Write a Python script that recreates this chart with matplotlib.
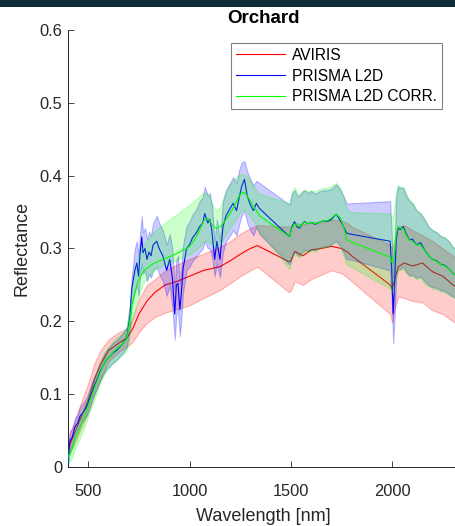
import matplotlib
matplotlib.use("Agg")
import matplotlib.pyplot as plt
from matplotlib.patches import Rectangle
import numpy as np

plt.rcParams['font.family'] = ['Liberation Sans', 'DejaVu Sans']

# ---------------- data ----------------
title = "Orchard"
labels = ["AVIRIS", "PRISMA L2D", "PRISMA L2D CORR."]

wl_aviris = [400, 430, 460, 500, 530, 560, 600, 650, 690, 720, 750, 790, 830, 880, 940,
             1000, 1070, 1150, 1200, 1250, 1300, 1335, 1490, 1500, 1520, 1560, 1600, 1650,
             1700, 1750, 1780, 1800, 1990, 2000, 2010, 2030, 2060, 2100, 2150, 2200, 2250,
             2300, 2330]
aviris_mean = [0.025, 0.045, 0.065, 0.092, 0.12, 0.14, 0.16, 0.17, 0.177, 0.19, 0.21, 0.228,
               0.24, 0.25, 0.255, 0.262, 0.27, 0.275, 0.283, 0.292, 0.30, 0.304, 0.282, 0.283,
               0.296, 0.29, 0.298, 0.30, 0.303, 0.30, 0.295, 0.29, 0.25, 0.245, 0.255, 0.275,
               0.28, 0.276, 0.28, 0.268, 0.262, 0.25, 0.245]
aviris_upper = [0.04, 0.06, 0.085, 0.115, 0.142, 0.16, 0.175, 0.185, 0.19, 0.205, 0.23, 0.25,
                0.258, 0.27, 0.278, 0.286, 0.293, 0.302, 0.31, 0.32, 0.328, 0.332, 0.33, 0.33,
                0.335, 0.333, 0.336, 0.336, 0.34, 0.338, 0.335, 0.33, 0.305, 0.30, 0.31, 0.33,
                0.332, 0.325, 0.318, 0.31, 0.30, 0.29, 0.284]
aviris_lower = [0.015, 0.03, 0.05, 0.075, 0.10, 0.12, 0.145, 0.158, 0.165, 0.172, 0.185, 0.198,
                0.206, 0.212, 0.217, 0.222, 0.232, 0.243, 0.252, 0.262, 0.27, 0.275, 0.24, 0.242,
                0.255, 0.25, 0.258, 0.264, 0.27, 0.266, 0.26, 0.255, 0.21, 0.198, 0.215, 0.234,
                0.232, 0.228, 0.226, 0.215, 0.21, 0.20, 0.195]

wl_prisma = [400, 410, 420, 434, 447, 460, 475, 493, 508, 523, 540, 557, 575, 592, 608, 623,
             640, 656, 672, 690, 705, 715, 730, 740, 748, 755, 764, 770, 780, 790, 800, 810,
             820, 838, 850, 868, 887, 902, 915, 927, 935, 943, 952, 960, 968, 985, 1000, 1015,
             1030, 1050, 1065, 1075, 1090, 1100, 1110, 1124, 1135, 1150, 1165, 1180, 1200,
             1215, 1232, 1245, 1257, 1271, 1285, 1300, 1315, 1330, 1345, 1494, 1505, 1518,
             1530, 1542, 1555, 1567, 1585, 1600, 1620, 1640, 1660, 1680, 1700, 1724, 1745,
             1760, 1775, 1790, 1990, 1998, 2005, 2012, 2020, 2028, 2040, 2055, 2070, 2085,
             2100, 2120, 2140, 2160, 2180, 2200, 2220, 2240, 2260, 2280, 2300, 2320, 2330]

l2d_mean = [0.005, 0.037, 0.04, 0.055, 0.06, 0.07, 0.075, 0.083, 0.095, 0.107, 0.118, 0.13,
            0.14, 0.148, 0.152, 0.157, 0.16, 0.165, 0.17, 0.178, 0.205, 0.245, 0.27, 0.28,
            0.262, 0.29, 0.316, 0.294, 0.30, 0.285, 0.295, 0.29, 0.305, 0.31, 0.30, 0.29,
            0.27, 0.285, 0.26, 0.21, 0.25, 0.252, 0.216, 0.24, 0.272, 0.30, 0.305, 0.315,
            0.32, 0.33, 0.335, 0.348, 0.335, 0.34, 0.325, 0.285, 0.31, 0.285, 0.33, 0.345,
            0.355, 0.362, 0.352, 0.37, 0.385, 0.395, 0.372, 0.36, 0.352, 0.362, 0.355, 0.316,
            0.33, 0.337, 0.33, 0.328, 0.333, 0.337, 0.334, 0.336, 0.333, 0.336, 0.338, 0.337,
            0.34, 0.347, 0.338, 0.33, 0.321, 0.32, 0.31, 0.27, 0.21, 0.25, 0.31, 0.328,
            0.326, 0.33, 0.32, 0.312, 0.313, 0.305, 0.308, 0.298, 0.29, 0.285, 0.283, 0.278,
            0.277, 0.272, 0.266, 0.262, 0.26]
l2d_lower = [0.0, 0.025, 0.03, 0.044, 0.05, 0.058, 0.064, 0.072, 0.083, 0.095, 0.106, 0.118,
             0.128, 0.135, 0.139, 0.143, 0.147, 0.152, 0.157, 0.165, 0.19, 0.225, 0.24, 0.25,
             0.235, 0.26, 0.28, 0.265, 0.27, 0.255, 0.265, 0.26, 0.27, 0.275, 0.265, 0.255,
             0.235, 0.25, 0.22, 0.175, 0.21, 0.215, 0.18, 0.205, 0.24, 0.27, 0.275, 0.283,
             0.288, 0.295, 0.30, 0.31, 0.30, 0.30, 0.29, 0.262, 0.28, 0.26, 0.295, 0.31,
             0.318, 0.325, 0.318, 0.333, 0.345, 0.352, 0.335, 0.325, 0.318, 0.33, 0.32, 0.278,
             0.29, 0.297, 0.292, 0.29, 0.295, 0.298, 0.297, 0.299, 0.298, 0.301, 0.303, 0.303,
             0.306, 0.31, 0.303, 0.295, 0.285, 0.285, 0.27, 0.23, 0.17, 0.205, 0.26, 0.272,
             0.272, 0.275, 0.268, 0.263, 0.264, 0.26, 0.262, 0.255, 0.25, 0.247, 0.246, 0.243,
             0.242, 0.238, 0.234, 0.232, 0.23]
l2d_upper = [0.015, 0.05, 0.052, 0.067, 0.072, 0.083, 0.088, 0.096, 0.108, 0.12, 0.131, 0.143,
             0.153, 0.161, 0.166, 0.171, 0.174, 0.179, 0.184, 0.192, 0.22, 0.262, 0.30, 0.31,
             0.29, 0.318, 0.345, 0.322, 0.328, 0.313, 0.323, 0.318, 0.335, 0.345, 0.335, 0.325,
             0.305, 0.32, 0.30, 0.245, 0.285, 0.29, 0.252, 0.275, 0.305, 0.33, 0.337, 0.347,
             0.352, 0.365, 0.37, 0.385, 0.372, 0.376, 0.36, 0.31, 0.34, 0.31, 0.365, 0.38,
             0.39, 0.398, 0.39, 0.408, 0.418, 0.42, 0.405, 0.395, 0.387, 0.393, 0.39, 0.36,
             0.375, 0.38, 0.373, 0.372, 0.378, 0.38, 0.376, 0.379, 0.375, 0.378, 0.38, 0.38,
             0.382, 0.388, 0.38, 0.372, 0.362, 0.362, 0.365, 0.32, 0.26, 0.30, 0.37, 0.385,
             0.383, 0.383, 0.372, 0.365, 0.362, 0.352, 0.348, 0.34, 0.33, 0.325, 0.322, 0.317,
             0.315, 0.31, 0.302, 0.298, 0.296]

corr_mean = [0.014, 0.018, 0.025, 0.037, 0.045, 0.054, 0.065, 0.078, 0.09, 0.101, 0.115, 0.128,
             0.14, 0.148, 0.152, 0.158, 0.162, 0.166, 0.17, 0.176, 0.20, 0.22, 0.24, 0.25,
             0.256, 0.26, 0.265, 0.268, 0.271, 0.273, 0.275, 0.277, 0.279, 0.281, 0.283, 0.285,
             0.287, 0.289, 0.29, 0.292, 0.293, 0.294, 0.295, 0.297, 0.298, 0.30, 0.303, 0.308,
             0.315, 0.325, 0.335, 0.34, 0.341, 0.338, 0.333, 0.329, 0.328, 0.33, 0.334, 0.34,
             0.348, 0.355, 0.365, 0.372, 0.376, 0.377, 0.372, 0.365, 0.358, 0.352, 0.345, 0.316,
             0.328, 0.334, 0.332, 0.33, 0.333, 0.336, 0.334, 0.336, 0.334, 0.336, 0.338, 0.338,
             0.342, 0.347, 0.342, 0.33, 0.312, 0.31, 0.288, 0.282, 0.28, 0.295, 0.32, 0.33,
             0.328, 0.327, 0.318, 0.312, 0.31, 0.305, 0.305, 0.297, 0.29, 0.285, 0.282, 0.278,
             0.276, 0.272, 0.266, 0.262, 0.26]
corr_lower = [0.005, 0.008, 0.013, 0.024, 0.032, 0.041, 0.051, 0.064, 0.076, 0.087, 0.10, 0.113,
              0.125, 0.133, 0.138, 0.143, 0.147, 0.151, 0.155, 0.16, 0.18, 0.20, 0.215, 0.228,
              0.234, 0.24, 0.247, 0.251, 0.256, 0.26, 0.263, 0.266, 0.269, 0.272, 0.274, 0.277,
              0.279, 0.281, 0.282, 0.283, 0.284, 0.285, 0.286, 0.287, 0.288, 0.29, 0.292, 0.295,
              0.298, 0.303, 0.308, 0.31, 0.31, 0.308, 0.305, 0.303, 0.303, 0.306, 0.312, 0.32,
              0.328, 0.334, 0.342, 0.348, 0.352, 0.354, 0.35, 0.343, 0.338, 0.33, 0.322, 0.272,
              0.285, 0.293, 0.29, 0.288, 0.292, 0.296, 0.295, 0.297, 0.296, 0.30, 0.302, 0.302,
              0.305, 0.31, 0.302, 0.29, 0.278, 0.276, 0.245, 0.24, 0.238, 0.25, 0.262, 0.27,
              0.27, 0.272, 0.266, 0.262, 0.262, 0.258, 0.26, 0.252, 0.248, 0.245, 0.244, 0.241,
              0.24, 0.236, 0.233, 0.231, 0.229]
corr_upper = [0.022, 0.028, 0.036, 0.05, 0.058, 0.067, 0.079, 0.092, 0.104, 0.115, 0.13, 0.143,
              0.155, 0.163, 0.167, 0.173, 0.177, 0.181, 0.185, 0.192, 0.22, 0.245, 0.27, 0.28,
              0.29, 0.295, 0.30, 0.304, 0.308, 0.312, 0.315, 0.318, 0.322, 0.326, 0.329, 0.333,
              0.337, 0.34, 0.343, 0.345, 0.346, 0.348, 0.35, 0.352, 0.354, 0.357, 0.36, 0.363,
              0.367, 0.372, 0.376, 0.377, 0.375, 0.37, 0.362, 0.355, 0.352, 0.356, 0.368, 0.378,
              0.388, 0.393, 0.398, 0.401, 0.402, 0.402, 0.398, 0.392, 0.386, 0.38, 0.375, 0.362,
              0.378, 0.384, 0.377, 0.374, 0.378, 0.381, 0.378, 0.38, 0.378, 0.381, 0.383, 0.383,
              0.386, 0.39, 0.383, 0.37, 0.355, 0.35, 0.348, 0.34, 0.345, 0.36, 0.378, 0.387,
              0.385, 0.385, 0.374, 0.367, 0.363, 0.353, 0.349, 0.34, 0.33, 0.325, 0.322, 0.317,
              0.315, 0.31, 0.302, 0.298, 0.296]

x_ticks = [500, 1000, 1500, 2000]
y_ticks = [0, 0.1, 0.2, 0.3, 0.4, 0.5, 0.6]
y_ticklabels = ["0", "0.1", "0.2", "0.3", "0.4", "0.5", "0.6"]

# ---------------- figure ----------------
W, H = 455, 526
fig = plt.figure(figsize=(W / 100, H / 100), dpi=100)
fig.patch.set_facecolor("white")

# dark strip at the very top of the picture
fig.patches.append(Rectangle((0, 1 - 7 / H), 1, 7 / H, transform=fig.transFigure,
                             facecolor="#0f2b36", edgecolor="none", zorder=0))

ax_l, ax_r, ax_t, ax_b = 68, 459, 30, 467
ax = fig.add_axes([ax_l / W, 1 - ax_b / H, (ax_r - ax_l) / W, (ax_b - ax_t) / H])

series = [
    (wl_aviris, aviris_mean, aviris_lower, aviris_upper, (1, 0, 0)),
    (wl_prisma, l2d_mean, l2d_lower, l2d_upper, (0, 0, 1)),
    (wl_prisma, corr_mean, corr_lower, corr_upper, (0, 1, 0)),
]
handles = []
for i, (wl, m, lo, up, c) in enumerate(series):
    ax.fill_between(wl, lo, up, facecolor=c + (0.2,), edgecolor=c + (0.25,),
                    linewidth=0.8, zorder=2 + 2 * i)
    h, = ax.plot(wl, m, color=c, linewidth=0.8, zorder=3 + 2 * i)
    handles.append(h)

ax.set_xlim(400, 2330)
ax.set_ylim(0, 0.6)
ax.set_xticks(x_ticks)
ax.set_yticks(y_ticks)
ax.set_yticklabels(y_ticklabels)

axc = "#262626"
for s in ["top", "right"]:
    ax.spines[s].set_visible(False)
for s in ["left", "bottom"]:
    ax.spines[s].set_color(axc)
    ax.spines[s].set_linewidth(0.7)
ax.tick_params(direction="in", length=4, width=0.6, color=axc, labelcolor=axc,
               labelsize=11.8)
ax.tick_params(axis="x", pad=12.6)
ax.tick_params(axis="y", pad=4.3)

ax.set_xlabel("Wavelength [nm]", fontsize=13, color=axc, labelpad=6.3)
ax.set_ylabel("Reflectance", fontsize=13, color=axc, labelpad=6)
ax.set_title(title, fontsize=13.5, fontweight="bold", color="black", pad=5)

leg = ax.legend(handles, labels, loc="upper right",
                bbox_to_anchor=(442 / W, 1 - 43 / H), bbox_transform=fig.transFigure,
                borderaxespad=0, fontsize=11.2, frameon=True, fancybox=False,
                framealpha=1, edgecolor="#808080", handlelength=3.2,
                handletextpad=0.45, labelspacing=0.38, borderpad=0.3)
leg.get_frame().set_linewidth(0.8)
for t in leg.get_texts():
    t.set_color("black")

fig.savefig("out.png", dpi=100)
